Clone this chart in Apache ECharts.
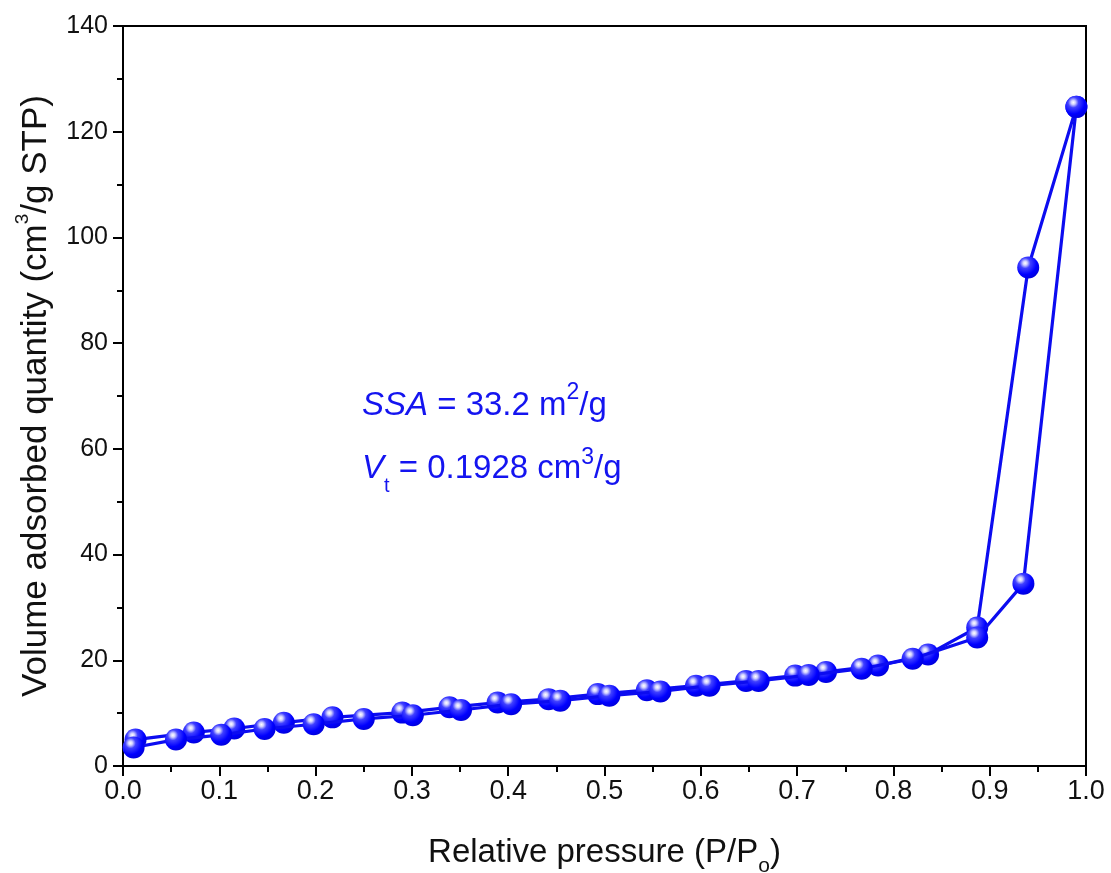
<!DOCTYPE html>
<html>
<head>
<meta charset="utf-8">
<script src="https://cdn.jsdelivr.net/npm/echarts@6/dist/echarts.min.js"></script>
<style>
html,body{margin:0;padding:0;background:#fff;}
#chart{width:1111px;height:873px;}
</style>
</head>
<body>
<div id="chart"></div>
<script>
// Adsorption branch (relative pressure, volume)
const adsP = [0.011,0.055,0.102,0.147,0.198,0.250,0.301,0.351,0.403,0.454,0.505,0.558,0.609,0.660,0.712,0.767,0.820,0.887,0.935,0.990];
const adsV = [3.5,5.0,5.9,7.0,7.9,8.9,9.6,10.6,11.7,12.35,13.3,14.1,15.2,16.1,17.2,18.4,20.3,24.3,34.5,124.7];
// Desorption branch (from high to low pressure)
const desP = [0.990,0.940,0.887,0.836,0.784,0.730,0.698,0.647,0.595,0.544,0.493,0.442,0.389,0.339,0.290,0.2175,0.167,0.1155,0.0735,0.013];
const desV = [124.7,94.3,26.2,21.1,19.0,17.8,17.1,16.1,15.2,14.35,13.6,12.65,12.0,11.1,10.1,9.2,8.2,7.1,6.35,5.0];
const xTicks = ['0.0','0.1','0.2','0.3','0.4','0.5','0.6','0.7','0.8','0.9','1.0'];

const chart = echarts.init(document.getElementById('chart'));
const ball = new echarts.graphic.RadialGradient(0.36, 0.3, 0.8, [
  {offset:0, color:'#ffffff'},
  {offset:0.12, color:'#d0d0ff'},
  {offset:0.3, color:'#4040ff'},
  {offset:0.65, color:'#0000ff'},
  {offset:1, color:'#0000d0'}
]);
const lineCol = '#0c0cf0';
function pts(p, v){ return p.map((x,i)=>[x, v[i]]); }
const font = 'Liberation Sans, Arial, sans-serif';
const ink = '#111';
const blue = '#1414f0';

chart.setOption({
  animation:false,
  grid:{left:123,right:25,top:26,bottom:107,containLabel:false,outerBoundsMode:'none',
    show:true,borderColor:'#000',borderWidth:2,backgroundColor:'transparent'},
  xAxis:{
    type:'value',min:0,max:1,interval:0.1,
    axisLine:{show:true,lineStyle:{color:'#000',width:2}},
    axisTick:{show:true,length:10,lineStyle:{color:'#000',width:2}},
    minorTick:{show:true,splitNumber:2,length:6,lineStyle:{color:'#000',width:2}},
    splitLine:{show:false},
    axisLabel:{fontFamily:font,fontSize:27,color:ink,margin:12,
      formatter:(v)=>xTicks[Math.round(v*10)]},
    name:'{n|Relative pressure (P/P}{sub|o}{n|)}',
    nameLocation:'middle',nameGap:78,
    nameTextStyle:{rich:{
      n:{fontFamily:font,fontSize:33,lineHeight:33,color:ink,verticalAlign:'bottom',padding:[0,0,8,0]},
      sub:{fontFamily:font,fontSize:21,lineHeight:21,color:ink,verticalAlign:'bottom'}
    }}
  },
  yAxis:{
    type:'value',min:0,max:140,interval:20,
    axisLine:{show:true,lineStyle:{color:'#000',width:2}},
    axisTick:{show:true,length:10,lineStyle:{color:'#000',width:2}},
    minorTick:{show:true,splitNumber:2,length:6,lineStyle:{color:'#000',width:2}},
    splitLine:{show:false},
    axisLabel:{fontFamily:font,fontSize:25,color:ink,margin:15},
    name:'{n|Volume adsorbed quantity (cm}{sup|3}{n|/g STP)}',
    nameLocation:'middle',nameGap:69,nameRotate:90,
    nameTextStyle:{rich:{
      n:{fontFamily:font,fontSize:35,lineHeight:35,color:ink,verticalAlign:'bottom'},
      sup:{fontFamily:font,fontSize:19,lineHeight:19,color:ink,verticalAlign:'bottom',padding:[0,0,22,0]}
    }}
  },
  graphic:[
    {type:'text',left:362,top:381,style:{
      text:'{i|SSA}{n| = 33.2 m}{sup|2}{n|/g}',
      rich:{
        i:{fontFamily:font,fontSize:33,lineHeight:33,fontStyle:'italic',fill:blue,verticalAlign:'bottom'},
        n:{fontFamily:font,fontSize:33,lineHeight:33,fill:blue,verticalAlign:'bottom'},
        sup:{fontFamily:font,fontSize:23,lineHeight:23,fill:blue,verticalAlign:'bottom',padding:[0,0,18,0]}
      }}},
    {type:'text',left:362,top:446,style:{
      text:'{i|V}{sub|t}{n| = 0.1928 cm}{sup|3}{n|/g}',
      rich:{
        i:{fontFamily:font,fontSize:33,lineHeight:33,fontStyle:'italic',fill:blue,verticalAlign:'bottom',padding:[0,0,11,0]},
        sub:{fontFamily:font,fontSize:20,lineHeight:20,fill:blue,verticalAlign:'bottom'},
        n:{fontFamily:font,fontSize:33,lineHeight:33,fill:blue,verticalAlign:'bottom',padding:[0,0,11,0]},
        sup:{fontFamily:font,fontSize:23,lineHeight:23,fill:blue,verticalAlign:'bottom',padding:[0,0,27,0]}
      }}}
  ],
  series:[
    {type:'line',name:'Adsorption',data:pts(adsP,adsV),symbol:'circle',symbolSize:22,
     lineStyle:{color:lineCol,width:3.2},itemStyle:{color:ball,borderWidth:0},z:3},
    {type:'line',name:'Desorption',data:pts(desP,desV),symbol:'circle',symbolSize:22,
     lineStyle:{color:lineCol,width:3.2},itemStyle:{color:ball,borderWidth:0},z:2}
  ]
});
</script>
</body>
</html>
